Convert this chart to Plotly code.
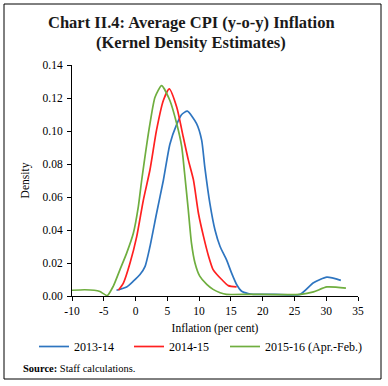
import plotly.graph_objects as go

# Data
x_2013 = [-3.0, -1.4, -0.35, 0.7, 1.5, 2.27, 3.3, 4.37, 5.4, 6.47, 7.26, 8.14, 9.6, 10.4, 10.9, 11.7, 12.5, 13.3, 14.3, 15.1, 15.9, 16.7, 17.7, 18.5, 22, 25.9, 28, 30.1, 32.3]
y_2013 = [0.0035, 0.0055, 0.009, 0.013, 0.018, 0.030, 0.050, 0.070, 0.092, 0.104, 0.110, 0.112, 0.1045, 0.0945, 0.078, 0.056, 0.040, 0.030, 0.022, 0.014, 0.007, 0.0029, 0.0015, 0.001, 0.001, 0.001, 0.008, 0.0114, 0.0095]

x_2014 = [-2.7, -1.9, -0.87, 0.18, 1.22, 2.27, 3.3, 4.37, 5.3, 6.47, 7.5, 8.3, 9.1, 9.9, 10.7, 11.5, 12.2, 12.8, 13.55, 14.6, 15.9]
y_2014 = [0.0035, 0.008, 0.020, 0.036, 0.058, 0.0765, 0.1005, 0.1185, 0.1255, 0.1145, 0.0965, 0.0825, 0.0705, 0.050, 0.036, 0.024, 0.016, 0.013, 0.010, 0.0063, 0.0055]

x_2015 = [-10, -8, -6.5, -5.6, -4.45, -3.5, -2.45, -1.4, -0.35, 0.43, 0.96, 2.27, 3.06, 4.1, 5.4, 6.47, 7.26, 7.7, 8.3, 8.8, 9.35, 10.1, 11.2, 12.2, 13.3, 14.3, 18, 26, 28, 30.1, 33.1]
y_2015 = [0.0035, 0.0038, 0.0035, 0.0027, 0.0003, 0.006, 0.016, 0.026, 0.038, 0.054, 0.070, 0.1045, 0.1205, 0.1275, 0.1185, 0.1045, 0.0905, 0.075, 0.052, 0.032, 0.020, 0.012, 0.007, 0.004, 0.002, 0.001, 0.001, 0.001, 0.0025, 0.0055, 0.0048]

series_names = ["2013-14", "2014-15", "2015-16 (Apr.-Feb.)"]
colors = ["#2E75C0", "#FF2020", "#6FAE3F"]

x_ticks = [-10, -5, 0, 5, 10, 15, 20, 25, 30, 35]
y_ticks = [0.00, 0.02, 0.04, 0.06, 0.08, 0.10, 0.12, 0.14]

FONT = "Liberation Serif"

W, H = 388, 386
L, R, T, B = 72, 30, 65, 90
pw, ph = W - L - R, H - T - B

def px_to_paper_x(px):
    return (px - L) / pw

def px_to_paper_y(py):
    return (H - B - py) / ph

legend_ids = ["legend", "legend2", "legend3"]
legend_left_px = [34, 129, 225]

fig = go.Figure()
for xs, ys, name, c, lid in zip([x_2013, x_2014, x_2015], [y_2013, y_2014, y_2015],
                                series_names, colors, legend_ids):
    fig.add_trace(go.Scatter(x=xs, y=ys, name=name, mode="lines", legend=lid,
                             line=dict(color=c, width=1.7, shape="spline", smoothing=0.6),
                             cliponaxis=True))

legend_common = dict(orientation="h", xanchor="left", yanchor="top",
                     y=px_to_paper_y(332), font=dict(family=FONT, size=12),
                     bgcolor="rgba(0,0,0,0)")

fig.update_layout(
    width=W, height=H,
    margin=dict(l=L, r=R, t=T, b=B, autoexpand=False),
    paper_bgcolor="white", plot_bgcolor="white",
    font=dict(family=FONT, size=11, color="#000000"),
    showlegend=True,
    legend=dict(x=px_to_paper_x(legend_left_px[0]), **legend_common),
    legend2=dict(x=px_to_paper_x(legend_left_px[1]), **legend_common),
    legend3=dict(x=px_to_paper_x(legend_left_px[2]), **legend_common),
    xaxis=dict(range=[-10, 35], tickvals=x_ticks, ticktext=[str(v) for v in x_ticks],
               showgrid=False, zeroline=False, showline=True, linecolor="#000000", linewidth=1,
               ticks="outside", ticklen=4, tickcolor="#000000", ticklabelstandoff=0,
               tickfont=dict(family=FONT, size=11.5), automargin=False,
               title=dict(text="Inflation (per cent)", font=dict(family=FONT, size=11.5), standoff=8)),
    yaxis=dict(range=[0, 0.14], tickvals=y_ticks, ticktext=[f"{v:.2f}" for v in y_ticks],
               showgrid=False, zeroline=False, showline=True, linecolor="#000000", linewidth=1,
               ticks="outside", ticklen=4, tickcolor="#000000", ticklabelstandoff=2,
               tickfont=dict(family=FONT, size=11.5), automargin=False,
               title=dict(text="Density", font=dict(family=FONT, size=11.5), standoff=10)),
    shapes=[dict(type="rect", xref="paper", yref="paper",
                 x0=px_to_paper_x(4), x1=px_to_paper_x(381),
                 y0=px_to_paper_y(379), y1=px_to_paper_y(4),
                 line=dict(color="#000000", width=1), fillcolor="rgba(0,0,0,0)", layer="below")],
    annotations=[
        dict(text="<b>Chart II.4: Average CPI (y-o-y) Inflation</b>", xref="paper", yref="paper",
             x=px_to_paper_x(191), y=px_to_paper_y(23), xanchor="center", yanchor="middle",
             showarrow=False, font=dict(family=FONT, size=16.5, color="#1a1a1a")),
        dict(text="<b>(Kernel Density Estimates)</b>", xref="paper", yref="paper",
             x=px_to_paper_x(191), y=px_to_paper_y(43), xanchor="center", yanchor="middle",
             showarrow=False, font=dict(family=FONT, size=16.5, color="#1a1a1a")),
        dict(text="<b>Source:</b> Staff calculations.", xref="paper", yref="paper",
             x=px_to_paper_x(21), y=px_to_paper_y(368), xanchor="left", yanchor="middle",
             showarrow=False, font=dict(family=FONT, size=10.5, color="#000000")),
    ],
)

fig.write_html("out.html", config={"displayModeBar": False},
               post_script="document.body.style.margin='0px';")
